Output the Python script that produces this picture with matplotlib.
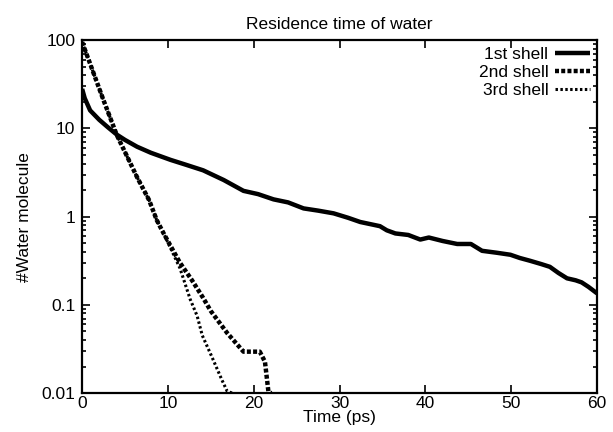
import matplotlib
matplotlib.use("Agg")
import matplotlib.pyplot as plt
from matplotlib.ticker import FixedLocator, FixedFormatter, LogLocator, NullFormatter

plt.rcParams['font.family'] = ['Liberation Sans', 'DejaVu Sans']

title = "Residence time of water"
xlabel = "Time (ps)"
ylabel = "#Water molecule"
series_names = ["1st shell", "2nd shell", "3rd shell"]

t1 = [0, 0.3, 0.93, 2.0, 3.0, 4.04, 5.0, 6.4, 8.0, 10.3, 12.0, 14.1, 16.5, 18.8, 20.5,
      22.3, 24.0, 25.8, 27.5, 29.3, 31.0, 32.4, 34.7, 35.5, 36.5, 38.0, 39.4, 40.4, 42.0,
      43.7, 45.3, 46.6, 48.3, 49.9, 51.0, 52.2, 53.5, 54.5, 55.5, 56.5, 57.5, 58.2, 59.0, 60]
v1 = [28, 22, 16, 12.5, 10.3, 8.5, 7.4, 6.2, 5.3, 4.4, 3.9, 3.35, 2.6, 1.96, 1.8,
      1.57, 1.45, 1.24, 1.17, 1.09, 0.97, 0.87, 0.78, 0.70, 0.645, 0.62, 0.55, 0.58, 0.53,
      0.49, 0.49, 0.41, 0.39, 0.37, 0.34, 0.316, 0.29, 0.27, 0.23, 0.20, 0.19, 0.18, 0.16, 0.135]

t2 = [0, 0.93, 2.48, 4.04, 6.4, 7.8, 8.7, 9.5, 10.5, 11.4, 12.8, 14.1, 15.0, 16.9, 18.8,
      19.5, 20.7, 21.3, 21.7, 22.0]
v2 = [95, 54, 21, 8.4, 2.8, 1.54, 0.91, 0.645, 0.43, 0.30, 0.19, 0.12, 0.085, 0.048, 0.0295,
      0.0295, 0.0295, 0.0227, 0.0105, 0.01]

t3 = [0, 0.93, 2.48, 4.04, 6.4, 7.8, 8.7, 9.5, 10.5, 11.4, 12.6, 13.4, 14.0, 15.1, 16.3,
      16.9, 17.5]
v3 = [95, 54, 21, 8.4, 2.8, 1.54, 0.91, 0.645, 0.40, 0.26, 0.115, 0.075, 0.045, 0.026, 0.014,
      0.0105, 0.01]

yticks = [0.01, 0.1, 1, 10, 100]
ytick_labels = ["0.01", "0.1", "1", "10", "100"]
xticks = [0, 10, 20, 30, 40, 50, 60]

fig = plt.figure(figsize=(6.13, 4.32), dpi=100)
ax = fig.add_axes([0.134, 0.090, 0.840, 0.817])

ax.plot(t1, v1, color='black', lw=3.2, ls='-', label=series_names[0], solid_capstyle='butt')
ax.plot(t2, v2, color='black', lw=3.2, ls=(0, (0.9, 0.5)), label=series_names[1])
ax.plot(t3, v3, color='black', lw=2.2, ls=(0, (0.8, 0.8)), label=series_names[2])

ax.set_yscale('log')
ax.set_xlim(0, 60)
ax.set_ylim(0.01, 100)
ax.yaxis.set_major_locator(FixedLocator(yticks))
ax.yaxis.set_major_formatter(FixedFormatter(ytick_labels))
ax.yaxis.set_minor_locator(LogLocator(base=10, subs=range(2, 10)))
ax.yaxis.set_minor_formatter(NullFormatter())
ax.set_xticks(xticks)
ax.set_xticklabels([str(x) for x in xticks])

ax.tick_params(which='both', direction='in', top=True, right=True, labelsize=12.5, width=1.2)
ax.tick_params(which='major', length=6)
ax.tick_params(axis='x', which='major', pad=2)
ax.tick_params(axis='y', which='major', pad=5)
ax.tick_params(which='minor', length=3)
for s in ax.spines.values():
    s.set_linewidth(1.6)

ax.set_title(title, fontsize=12.5, pad=8)
ax.set_xlabel(xlabel, fontsize=12.5, labelpad=-1)
ax.set_ylabel(ylabel, fontsize=12.5, labelpad=7)

leg = ax.legend(loc='upper right', frameon=False, markerfirst=False, fontsize=12.5,
                handlelength=2.0, handletextpad=0.4, labelspacing=0.15,
                borderaxespad=0.2, borderpad=0.2)

fig.savefig("out.png", dpi=100, facecolor='white')
